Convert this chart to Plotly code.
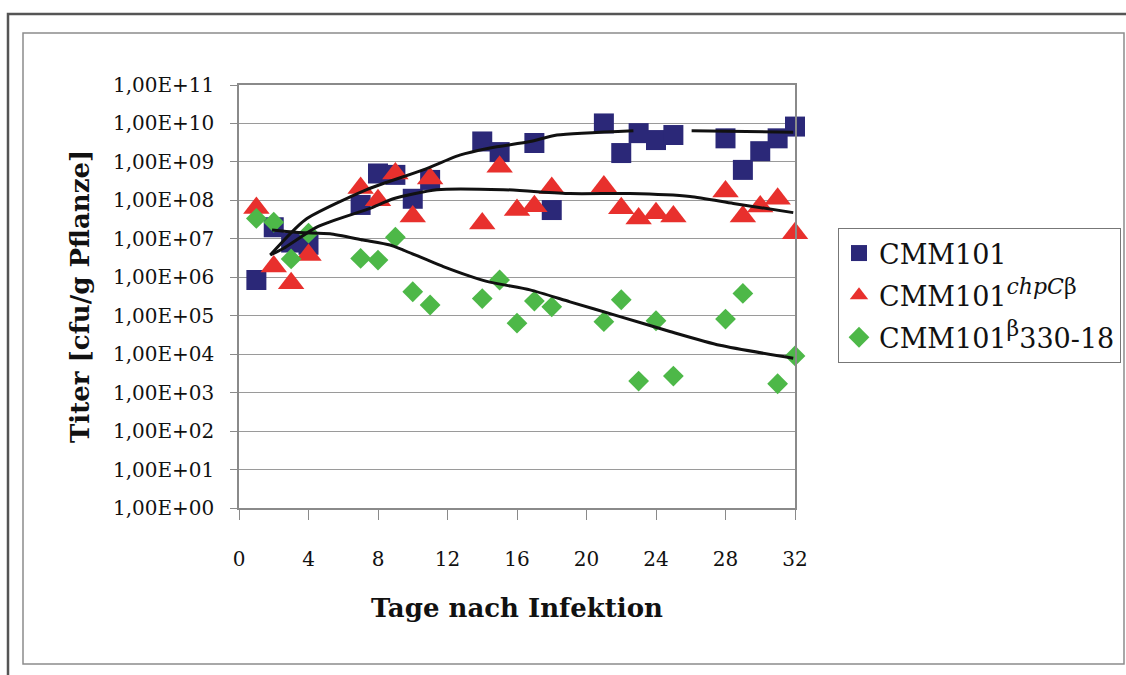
import plotly.graph_objects as go

# ---------------- data ----------------
days_cmm = [1, 2, 3, 4, 7, 8, 9, 10, 11, 14, 15, 17, 18, 21, 22, 23, 24, 25, 28, 29, 30, 31, 32]
titer_cmm = [8.5e5, 2.0e7, 8.0e6, 7.0e6, 7.6e7, 5.0e8, 4.6e8, 1.1e8, 3.4e8, 3.4e9, 1.8e9, 3.1e9, 5.6e7,
             1.0e10, 1.7e9, 5.6e9, 3.7e9, 5.0e9, 4.1e9, 6.2e8, 1.9e9, 4.1e9, 8.3e9]

days_chp = [1, 2, 3, 4, 7, 8, 9, 10, 11, 14, 15, 16, 17, 18, 21, 22, 23, 24, 25, 28, 29, 30, 31, 32]
titer_chp = [6.3e7, 1.9e6, 7.0e5, 3.8e6, 2.1e8, 1.0e8, 5.0e8, 3.8e7, 3.7e8, 2.5e7, 7.5e8, 5.6e7, 7.0e7,
             2.1e8, 2.3e8, 6.2e7, 3.4e7, 4.6e7, 3.8e7, 1.7e8, 3.8e7, 6.9e7, 1.1e8, 1.4e7]

days_b330 = [1, 2, 3, 4, 7, 8, 9, 10, 11, 14, 15, 16, 17, 18, 21, 22, 23, 24, 25, 28, 29, 31, 32]
titer_b330 = [3.4e7, 2.7e7, 3.0e6, 1.4e7, 3.1e6, 2.8e6, 1.1e7, 4.2e5, 1.9e5, 2.8e5, 8.5e5, 6.4e4, 2.4e5,
              1.7e5, 7.0e4, 2.6e5, 2.0e3, 7.4e4, 2.7e3, 8.2e4, 3.8e5, 1.7e3, 9.0e3]

# trend lines
trend_cmm_days = [1.8, 3.8, 7.35, 10.6, 12.7, 14.45, 16.75, 18.3, 22.7, None, 26.05, 31.9]
trend_cmm_vals = [3.8e6, 3.1e7, 1.9e8, 6.2e8, 1.5e9, 2.3e9, 3.4e9, 5.0e9, 6.5e9, None, 6.5e9, 5.9e9]

trend_chp_days = [1.8, 2.55, 4.56, 7.54, 8.88, 11.38, 15.21, 19.05, 22.5, 25.96, 28.45, 31.9]
trend_chp_vals = [3.8e6, 5.6e6, 2.1e7, 6.2e7, 1.1e8, 1.9e8, 1.9e8, 1.5e8, 1.5e8, 1.26e8, 8.3e7, 4.8e7]

trend_b330_days = [1.9, 3.5, 5.24, 7.15, 8.69, 9.46, 11.76, 14.26, 16.75, 19.05, 21.93, 24.8, 27.68, 31.9]
trend_b330_vals = [1.7e7, 1.45e7, 1.35e7, 9.3e6, 6.9e6, 5.1e6, 1.9e6, 7.8e5, 4.7e5, 2.3e5, 9.5e4, 3.9e4, 1.7e4, 7.8e3]

series_names = ["CMM101",
                "CMM101<sup><span style='font-size:22px'><i>chpC</i>β</span></sup>",
                "CMM101<sup><span style='font-size:22px'>β</span></sup>330-18"]

y_tickvals = [1e0, 1e1, 1e2, 1e3, 1e4, 1e5, 1e6, 1e7, 1e8, 1e9, 1e10, 1e11]
y_ticktext = ["1,00E+00", "1,00E+01", "1,00E+02", "1,00E+03", "1,00E+04", "1,00E+05",
              "1,00E+06", "1,00E+07", "1,00E+08", "1,00E+09", "1,00E+10", "1,00E+11"]
x_tickvals = [0, 4, 8, 12, 16, 20, 24, 28, 32]

x_title = "Tage nach Infektion"
y_title = "Titer [cfu/g Pflanze]"

# ---------------- figure ----------------
SERIF = "DejaVu Serif"
BLUE = "#2B2878"
RED = "#E8302D"
GREEN = "#4DB848"

fig = go.Figure()

fig.add_trace(go.Scatter(x=days_cmm, y=titer_cmm, mode="markers", name=series_names[0],
                         legendgroup="a", cliponaxis=False,
                         marker=dict(symbol="square", size=20, color=BLUE, line=dict(width=0))))
fig.add_trace(go.Scatter(x=days_chp, y=titer_chp, mode="markers", name=series_names[1],
                         legendgroup="b", cliponaxis=False,
                         marker=dict(symbol="triangle-up", size=23, color=RED, line=dict(width=0))))
fig.add_trace(go.Scatter(x=days_b330, y=titer_b330, mode="markers", name=series_names[2],
                         legendgroup="c", cliponaxis=False,
                         marker=dict(symbol="diamond", size=16, color=GREEN, line=dict(width=0))))

for xs, ys in [(trend_cmm_days, trend_cmm_vals), (trend_chp_days, trend_chp_vals),
               (trend_b330_days, trend_b330_vals)]:
    fig.add_trace(go.Scatter(x=xs, y=ys, mode="lines", showlegend=False, hoverinfo="skip",
                             connectgaps=False, cliponaxis=False,
                             line=dict(color="#111111", width=3, shape="spline", smoothing=0.6)))

GRID = "#9A9A9A"
AXIS = "#8A8A8A"

fig.update_xaxes(range=[0, 32], tickvals=x_tickvals, showgrid=False, zeroline=False,
                 showline=True, linecolor=AXIS, linewidth=1.5, mirror=True,
                 ticks="outside", ticklen=10, tickcolor=AXIS, tickwidth=1,
                 ticklabelstandoff=22,
                 tickfont=dict(family=SERIF, size=20, color="#111111"))
fig.update_yaxes(type="log", range=[0, 11], tickvals=y_tickvals, ticktext=y_ticktext,
                 showgrid=True, gridcolor=GRID, gridwidth=1, zeroline=False,
                 showline=True, linecolor=AXIS, linewidth=1.5, mirror=True,
                 ticks="outside", ticklen=7, tickcolor=AXIS, tickwidth=1,
                 ticklabelstandoff=12,
                 tickfont=dict(family=SERIF, size=20, color="#111111"))

W, H = 1126, 675
L, R, T, B = 239, 331, 85, 167
pw, ph = W - L - R, H - T - B


def px(x):
    return (x - L) / pw


def py(y):
    return (H - B - y) / ph


fig.update_layout(
    width=W, height=H,
    margin=dict(l=L, r=R, t=T, b=B, autoexpand=False),
    paper_bgcolor="white", plot_bgcolor="white",
    showlegend=True,
    legend=dict(x=px(838), y=py(228), xanchor="left", yanchor="top",
                bordercolor="#777777", borderwidth=1, bgcolor="white",
                font=dict(family=SERIF, size=27, color="#111111"),
                tracegroupgap=4, itemsizing="trace"),
    annotations=[
        dict(text="<b>" + x_title + "</b>", xref="paper", yref="paper",
             x=px(517), y=py(608), xanchor="center", yanchor="middle", showarrow=False,
             font=dict(family=SERIF, size=26, color="#111111")),
        dict(text="<b>" + y_title + "</b>", xref="paper", yref="paper",
             x=px(80), y=py(297), xanchor="center", yanchor="middle", showarrow=False,
             textangle=-90, font=dict(family=SERIF, size=26, color="#111111")),
    ],
    shapes=[
        dict(type="rect", xref="paper", yref="paper", x0=px(23), y0=py(33), x1=px(1124), y1=py(664),
             line=dict(color="#8C8C8C", width=1.5), layer="below"),
        dict(type="path", xref="paper", yref="paper",
             path=f"M {px(8)},{py(690)} L {px(8)},{py(14)} L {px(1140)},{py(14)}",
             line=dict(color="#555555", width=2.5), layer="below"),
    ],
)

fig.write_html("out.html")
